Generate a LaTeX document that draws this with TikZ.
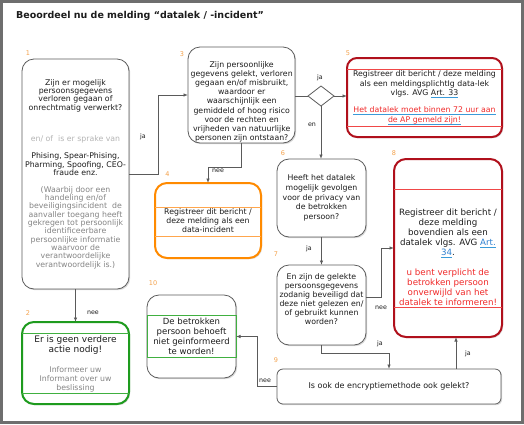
\documentclass[tikz,border=0pt]{standalone}
\usepackage{fontspec}
\setmainfont{DejaVu Sans}
\usetikzlibrary{shapes.geometric,shadows,arrows.meta}
\definecolor{boxgray}{HTML}{5C5C5C}
\definecolor{conngray}{HTML}{5A5A5A}
\definecolor{framegray}{HTML}{6E6E6E}
\definecolor{numorange}{HTML}{F4A24C}
\definecolor{boxorange}{HTML}{FF8A00}
\definecolor{lineorange}{HTML}{FFA64D}
\definecolor{boxgreen}{HTML}{1E9B1E}
\definecolor{linegreen}{HTML}{40B040}
\definecolor{boxred}{HTML}{B0101C}
\definecolor{linered}{HTML}{F04848}
\definecolor{textred}{HTML}{F02A2A}
\definecolor{ulblue}{HTML}{3A9AD9}
\definecolor{linkblue}{HTML}{2F80D0}
\definecolor{txtgray}{HTML}{858585}
\definecolor{txtlight}{HTML}{B5B5B5}
\definecolor{txtdark}{HTML}{1C1C1C}
\newcommand{\ulb}[1]{{\setbox0\hbox{#1}\rlap{\smash{\textcolor{ulblue}{\rule[-1.8pt]{\wd0}{0.7pt}}}}\box0}}
\newcommand{\grytxt}[1]{\textcolor{txtgray}{#1}}
\newcommand{\redtxt}[1]{\textcolor{textred}{#1}}
\tikzset{
  box/.style={draw=boxgray, line width=0.8pt, rounded corners=12pt, fill=white,
    drop shadow={opacity=0.3, shadow xshift=1.2pt, shadow yshift=-1.2pt},
    inner sep=0pt, outer sep=0pt, align=center, text=txtdark},
  txt/.style={inner sep=0pt, align=center, text=txtdark},
  num/.style={text=numorange, font=\fontsize{6.5}{7}\selectfont, inner sep=0pt},
  elab/.style={text=txtdark, font=\fontsize{6.3}{7}\selectfont, inner sep=0pt},
  conn/.style={draw=conngray, line width=0.8pt, -{Latex[length=4.5pt,width=3.5pt]}},
  plain/.style={draw=conngray, line width=0.8pt},
}
\begin{document}
\begin{tikzpicture}[x=1pt,y=-1pt]
\useasboundingbox (0,0) rectangle (524,424);
\fill[white] (0,0) rectangle (524,424);
\draw[framegray, line width=3pt] (1.5,1.5) rectangle (522.5,422.5);

\node[anchor=west, inner sep=0pt, font=\bfseries\fontsize{9.5}{11}\selectfont, text=txtdark] (title) at (16,16) {Beoordeel nu de melding “datalek / -incident”};

% node 1
\node[box, minimum width=107pt, minimum height=230pt, font=\fontsize{7.8}{8.35}\selectfont] (n1) at (75.5,174) {Zijn er mogelijk\\persoonsgegevens\\verloren gegaan of\\onrechtmatig verwerkt?\\[23.3pt]
\textcolor{txtlight}{en/ of~~is er sprake van}\\[8.6pt]
Phising, Spear-Phising,\\Pharming, Spoofing, CEO-\\fraude enz.\\[8.3pt]
\grytxt{(Waarbij door een}\\\grytxt{handeling en/of}\\\grytxt{beveiligingsincident~~de}\\\grytxt{aanvaller toegang heeft}\\\grytxt{gekregen tot persoonlijk}\\\grytxt{identificeerbare}\\\grytxt{persoonlijke informatie}\\\grytxt{waarvoor de}\\\grytxt{verantwoordelijke}\\\grytxt{verantwoordelijk is.)}};

% node 2
\node[box, draw=boxgreen, line width=2pt, minimum width=107pt, minimum height=82pt] (n2) at (75.5,363) {};
\draw[linegreen, line width=0.8pt] ([yshift=-11pt]n2.north west) -- ([yshift=-11pt]n2.north east);
\draw[linegreen, line width=0.8pt] ([yshift=11pt]n2.south west) -- ([yshift=11pt]n2.south east);
\node[txt, font=\fontsize{9}{10}\selectfont] (n2a) at (75.5,345) {Er is geen verdere\\actie nodig!};
\node[txt, font=\fontsize{7.8}{9}\selectfont, text=txtgray] (n2b) at (75.5,379) {Informeer uw\\Informant over uw\\beslissing};

% node 3
\node[box, minimum width=107pt, minimum height=96pt] (n3) at (241.5,95) {};
\node[txt, font=\fontsize{7.8}{9.15}\selectfont] (n3t) at (241.7,101.7) {Zijn persoonlijke\\gegevens gelekt, verloren\\gegaan en/of misbruikt,\\waardoor er\\waarschijnlijk een\\gemiddeld of hoog risico\\voor de rechten en\\vrijheden van natuurlijke\\personen zijn ontstaan?};

% diamond
\node[diamond, draw=boxgray, line width=0.8pt, fill=white, minimum width=26pt, minimum height=20pt, inner sep=0pt, outer sep=0pt] (d) at (321,96) {};

% node 4
\node[box, draw=boxorange, line width=2pt, minimum width=106pt, minimum height=75pt, font=\fontsize{7.8}{9.2}\selectfont] (n4) at (208,220.5) {Registreer dit bericht /\\deze melding als een\\data-incident};
\draw[lineorange, line width=0.8pt] ([yshift=-24pt]n4.north west) -- ([yshift=-24pt]n4.north east);
\draw[lineorange, line width=0.8pt] ([yshift=22pt]n4.south west) -- ([yshift=22pt]n4.south east);

% node 5
\node[box, draw=boxred, line width=2pt, rounded corners=10pt, minimum width=155pt, minimum height=79pt, font=\fontsize{7.8}{9.5}\selectfont] (n5) at (424.5,97.5) {Registreer dit bericht / deze melding\\als een meldingsplichtIg data-lek\\vlgs. AVG \ulb{Art. 33}\\[7.5pt]\redtxt{\ulb{Het datalek moet binnen 72 uur aan}}\\\redtxt{\ulb{de AP gemeld zijn!}}};
\draw[linered, line width=0.8pt] ([yshift=-11pt]n5.north west) -- ([yshift=-11pt]n5.north east);
\draw[linered, line width=0.8pt] ([yshift=11pt]n5.south west) -- ([yshift=11pt]n5.south east);

% node 6
\node[box, minimum width=89pt, minimum height=78pt, font=\fontsize{7.8}{9.8}\selectfont] (n6) at (321.5,198) {Heeft het datalek\\mogelijk gevolgen\\voor de privacy van\\de betrokken\\persoon?};

% node 7
\node[box, minimum width=89pt, minimum height=80pt] (n7) at (321.5,305) {};
\node[txt, font=\fontsize{7.8}{9.1}\selectfont] (n7t) at (321.5,299) {En zijn de gelekte\\persoonsgegevens\\zodanig beveiligd dat\\deze niet gelezen en/\\of gebruikt kunnen\\worden?};

% node 8
\node[box, draw=boxred, line width=2pt, minimum width=108pt, minimum height=178pt] (n8) at (448,248) {};
\draw[linered, line width=0.8pt] ([yshift=-30pt]n8.north west) -- ([yshift=-30pt]n8.north east);
\draw[linered, line width=0.8pt] ([yshift=30pt]n8.south west) -- ([yshift=30pt]n8.south east);
\node[txt, font=\fontsize{8.7}{10}\selectfont] (n8t) at (448,257.7) {Registreer dit bericht /\\deze melding\\bovendien als een\\datalek vlgs. AVG \textcolor{linkblue}{\ulb{Art.}}\\\textcolor{linkblue}{\ulb{34}}.\\[10pt]\redtxt{u bent verplicht de}\\\redtxt{betrokken persoon}\\\redtxt{onverwijld van het}\\\redtxt{datalek te informeren!}};

% node 9
\node[box, rounded corners=6pt, minimum width=224pt, minimum height=35pt, font=\fontsize{8}{9}\selectfont] (n9) at (389,386.5) {Is ook de encryptiemethode ook gelekt?};

% node 10
\node[box, minimum width=89pt, minimum height=83pt, font=\fontsize{8.5}{10}\selectfont] (n10) at (191.5,336.5) {De betrokken\\persoon behoeft\\niet geinformeerd\\te worden!};
\draw[linegreen, line width=0.8pt] ([yshift=-20pt]n10.north west) rectangle ([yshift=21pt]n10.south east);

% connectors
\draw[conn] (n1.east) -- ++(29,0) |- (n3.west);
\draw[conn] (n1.south) -- (n2.north);
\draw[conn] (n3.south) -- ++(0,24) -| (n4.north);
\draw[plain] (n3.east |- d.west) -- (d.west);
\draw[conn] (d.east) -- (d.east -| n5.west);
\draw[conn] (d.south) -- (d.south |- n6.north);
\draw[conn] (n6.south) -- (n7.north);
\draw[conn] ([yshift=8pt]n7.east) -- ++(15,0) |- (n8.west);
\draw[conn] (n7.south) -- ++(0,8) -| (n9.north);
\draw[conn] ([xshift=67pt]n9.north) -- ([xshift=67pt]n9.north |- n8.south);
\draw[conn] (n9.west) -- ++(-20,0) |- (n10.east);

% connector labels
\node[elab] (l1) at (143,136.5) {ja};
\node[elab] (l2) at (93,313) {nee};
\node[elab] (l3) at (320,77.5) {ja};
\node[elab] (l4) at (312,124.5) {en};
\node[elab] (l5) at (218,171) {nee};
\node[elab] (l6) at (309,248.5) {ja};
\node[elab] (l7) at (381,308) {nee};
\node[elab] (l8) at (380,343.5) {ja};
\node[elab] (l9) at (468,354) {ja};
\node[elab] (l10) at (265,380.5) {nee};

% step numbers
\node[num] (k1) at (28,53) {1};
\node[num] (k2) at (28,313) {2};
\node[num] (k3) at (182,54) {3};
\node[num] (k4) at (167.5,174.5) {4};
\node[num] (k5) at (348,53) {5};
\node[num] (k6) at (283,153.5) {6};
\node[num] (k7) at (276,254.5) {7};
\node[num] (k8) at (394,153.5) {8};
\node[num] (k9) at (276,360.5) {9};
\node[num] (k10) at (153,283.5) {10};
\end{tikzpicture}
\end{document}
